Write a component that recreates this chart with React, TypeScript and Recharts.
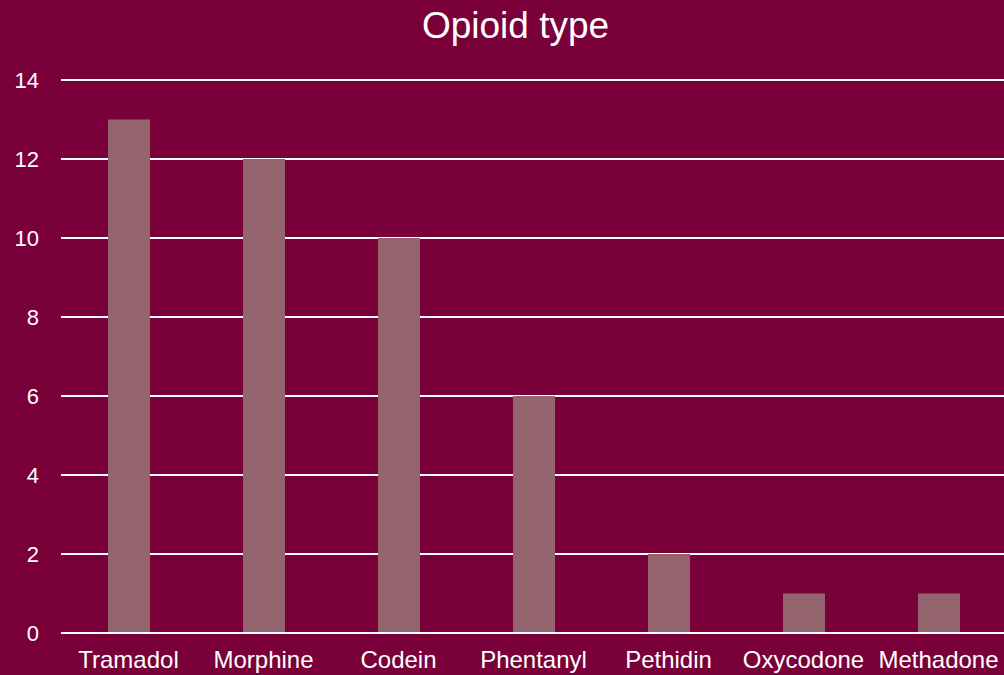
import React from "react";
import { BarChart, Bar, XAxis, YAxis, CartesianGrid } from "recharts";

// opioid categories and counts
const categories = [
  "Tramadol",
  "Morphine",
  "Codein",
  "Phentanyl",
  "Pethidin",
  "Oxycodone",
  "Methadone",
];
const counts = [13, 12, 10, 6, 2, 1, 1];
const yTicks = [0, 2, 4, 6, 8, 10, 12, 14];

const BG = "#7a0039";
const BAR = "#94646e";
const FONT = "'Liberation Sans', Arial, sans-serif";

const App = () => {
  const data = categories.map((name, i) => ({ name, value: counts[i] }));

  return (
    <div
      style={{
        position: "absolute",
        left: 0,
        top: 0,
        width: 1004,
        height: 675,
        background: BG,
        overflow: "hidden",
        fontFamily: FONT,
      }}
    >
      <div
        style={{
          position: "absolute",
          left: 0,
          top: 5,
          width: 1031,
          textAlign: "center",
          color: "#ffffff",
          fontSize: 37,
          lineHeight: "42px",
        }}
      >
        Opioid type
      </div>
      <BarChart
        width={1006}
        height={675}
        data={data}
        margin={{ top: 80, right: 0, bottom: 0, left: 0 }}
      >
        <CartesianGrid vertical={false} stroke="#ffffff" strokeWidth={2} />
        <XAxis
          dataKey="name"
          height={42}
          axisLine={{ stroke: "#ffffff", strokeWidth: 2 }}
          tickLine={false}
          tickSize={0}
          tickMargin={18}
          interval={0}
          tick={{ fill: "#ffffff", fontSize: 24, fontFamily: FONT }}
        />
        <YAxis
          width={61}
          domain={[0, 14]}
          ticks={yTicks}
          axisLine={false}
          tickLine={false}
          tickSize={0}
          tickMargin={22}
          tick={{ fill: "#ffffff", fontSize: 22, fontFamily: FONT }}
        />
        <Bar dataKey="value" fill={BAR} barSize={42} isAnimationActive={false} />
      </BarChart>
    </div>
  );
};

export default App;
